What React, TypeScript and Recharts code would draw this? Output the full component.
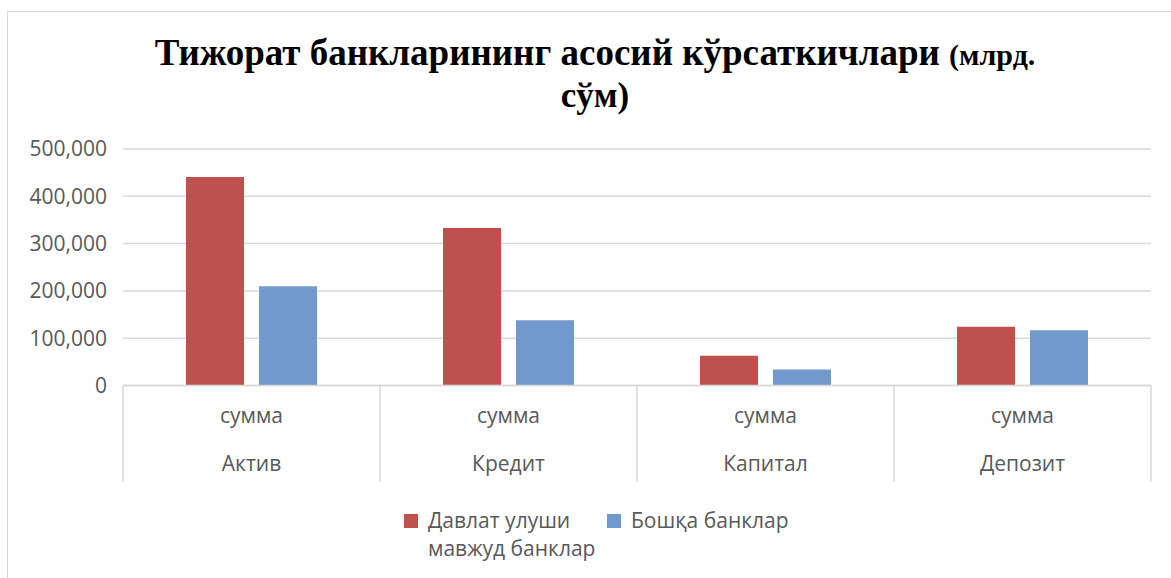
import React from 'react';
import { BarChart, Bar, XAxis, YAxis, CartesianGrid, Legend } from 'recharts';

const categories = ['Актив', 'Кредит', 'Капитал', 'Депозит'];
const subLabels = ['сумма', 'сумма', 'сумма', 'сумма'];
const stateBanks = [441000, 333000, 63000, 124000];
const otherBanks = [210000, 138000, 34000, 117000];
const yTicks = [0, 100000, 200000, 300000, 400000, 500000];
const seriesNames = ['Давлат улуши мавжуд банклар', 'Бошқа банклар'];
const seriesColors = ['#C0504D', '#7199CC'];

const data = categories.map((name, i) => ({
  name,
  state: stateBanks[i],
  other: otherBanks[i],
}));

const W = 1171;
const H = 578;
const margin = { top: 149, right: 20, bottom: 0, left: 0 };
const X_H = 192.5;
const Y_W = 123;
const band = (W - margin.left - margin.right - Y_W) / categories.length;
const grey = '#595959';
const lineGrey = '#d9d9d9';
const sans = '"Open Sans", sans-serif';
const fs = 21;

const CategoryTick = (props: any) => {
  const { x, y, index, payload } = props;
  const half = band / 2;
  return (
    <g>
      <line x1={x - half} x2={x - half} y1={y} y2={y + 96} stroke={lineGrey} strokeWidth={1.5} />
      {index === categories.length - 1 && (
        <line x1={x + half} x2={x + half} y1={y} y2={y + 96} stroke={lineGrey} strokeWidth={1.5} />
      )}
      <text x={x} y={y + 37} textAnchor="middle" fill={grey} fontSize={fs} fontFamily={sans}>
        {subLabels[index]}
      </text>
      <text x={x} y={y + 85} textAnchor="middle" fill={grey} fontSize={fs} fontFamily={sans}>
        {payload.value}
      </text>
    </g>
  );
};

const LegendContent = (props: any) => {
  const payload = [...(props.payload || [])].sort(
    (a: any, b: any) => seriesNames.indexOf(a.value) - seriesNames.indexOf(b.value)
  );
  return (
    <div style={{ display: 'flex', alignItems: 'flex-start', fontFamily: sans, fontSize: fs, color: grey, lineHeight: '28px' }}>
      {payload.map((p: any, i: number) => (
        <div key={i} style={{ display: 'flex', alignItems: 'flex-start', marginRight: 7 }}>
          <span style={{ display: 'inline-block', flex: 'none', width: 14, height: 14, background: p.color, marginTop: 8, marginRight: 10 }} />
          <span style={{ display: 'inline-block', width: i === 0 ? 172 : 'auto', whiteSpace: i === 0 ? 'normal' : 'nowrap' }}>{p.value}</span>
        </div>
      ))}
    </div>
  );
};

export default function App() {
  return (
    <div style={{ position: 'fixed', left: 0, top: 0, width: W, height: H, overflow: 'hidden', background: '#fff' }}>
      <div style={{ position: 'absolute', left: 7, top: 11, width: 1200, height: 620, border: `1px solid ${lineGrey}` }} />
      <div
        style={{
          position: 'absolute',
          left: 0,
          top: 33,
          width: 1190,
          textAlign: 'center',
          fontFamily: '"Liberation Serif", serif',
          fontWeight: 'bold',
          fontSize: 37,
          lineHeight: '40px',
          color: '#000',
        }}
      >
        Тижорат банкларининг асосий кўрсаткичлари <span style={{ fontSize: 30 }}>(млрд.</span>
        <br />
        <span style={{ fontSize: 35 }}>сўм)</span>
      </div>
      <div style={{ position: 'absolute', left: 0, top: 0 }}>
        <BarChart width={W} height={H} data={data} margin={margin} barSize={58} barGap={15}>
          <CartesianGrid vertical={false} stroke={lineGrey} strokeWidth={1.5} />
          <XAxis
            dataKey="name"
            interval={0}
            tickLine={false}
            tickSize={0}
            tickMargin={0}
            axisLine={{ stroke: lineGrey, strokeWidth: 1.5 }}
            tick={<CategoryTick />}
            height={X_H}
          />
          <YAxis
            width={Y_W}
            domain={[0, 500000]}
            ticks={yTicks}
            tickLine={false}
            axisLine={false}
            tickSize={0}
            tickMargin={16}
            tick={{ fill: grey, fontSize: fs, fontFamily: sans }}
            tickFormatter={(v: number) => v.toLocaleString('en-US')}
          />
          <Legend
            layout="horizontal"
            verticalAlign="middle"
            align="center"
            content={<LegendContent />}
            wrapperStyle={{ top: 506, left: 404, width: 'auto' }}
          />
          <Bar dataKey="state" name={seriesNames[0]} fill={seriesColors[0]} isAnimationActive={false} />
          <Bar dataKey="other" name={seriesNames[1]} fill={seriesColors[1]} isAnimationActive={false} />
        </BarChart>
      </div>
    </div>
  );
}
